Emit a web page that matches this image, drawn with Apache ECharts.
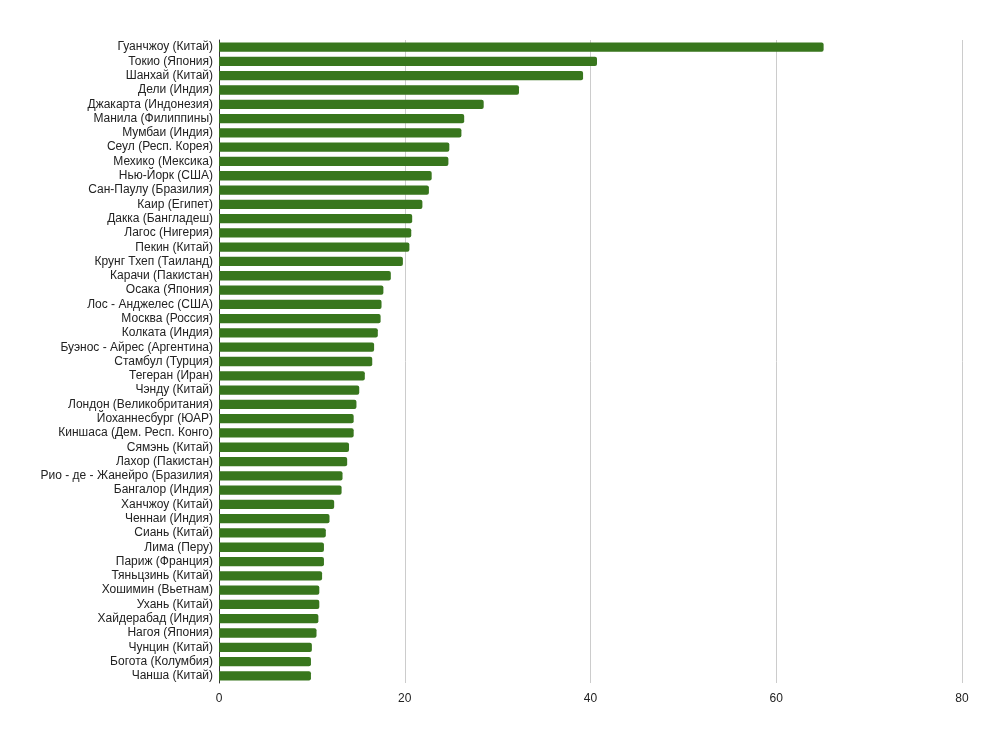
<!DOCTYPE html>
<html>
<head>
<meta charset="utf-8">
<script src="https://cdn.jsdelivr.net/npm/echarts@6/dist/echarts.min.js"></script>
<style>html,body{margin:0;padding:0;background:#fff}#c{width:1000px;height:743px}</style>
</head>
<body>
<div id="c"></div>
<script>
const cities = [
"Гуанчжоу (Китай)","Токио (Япония)","Шанхай (Китай)","Дели (Индия)","Джакарта (Индонезия)",
"Манила (Филиппины)","Мумбаи (Индия)","Сеул (Респ. Корея)","Мехико (Мексика)","Нью-Йорк (США)",
"Сан-Паулу (Бразилия)","Каир (Египет)","Дакка (Бангладеш)","Лагос (Нигерия)","Пекин (Китай)",
"Крунг Тхеп (Таиланд)","Карачи (Пакистан)","Осака (Япония)","Лос - Анджелес (США)","Москва (Россия)",
"Колката (Индия)","Буэнос - Айрес (Аргентина)","Стамбул (Турция)","Тегеран (Иран)","Чэнду (Китай)",
"Лондон (Великобритания)","Йоханнесбург (ЮАР)","Киншаса (Дем. Респ. Конго)","Сямэнь (Китай)","Лахор (Пакистан)",
"Рио - де - Жанейро (Бразилия)","Бангалор (Индия)","Ханчжоу (Китай)","Ченнаи (Индия)","Сиань (Китай)",
"Лима (Перу)","Париж (Франция)","Тяньцзинь (Китай)","Хошимин (Вьетнам)","Ухань (Китай)",
"Хайдерабад (Индия)","Нагоя (Япония)","Чунцин (Китай)","Богота (Колумбия)","Чанша (Китай)"
];
const population = [
65.1,40.7,39.2,32.3,28.5,
26.4,26.1,24.8,24.7,22.9,
22.6,21.9,20.8,20.7,20.5,
19.8,18.5,17.7,17.5,17.4,
17.1,16.7,16.5,15.7,15.1,
14.8,14.5,14.5,14.0,13.8,
13.3,13.2,12.4,11.9,11.5,
11.3,11.3,11.1,10.8,10.8,
10.7,10.5,10.0,9.9,9.9
];
const xTicks = {min:0, max:80, interval:20};

const chart = echarts.init(document.getElementById('c'), null, {renderer:'canvas'});
chart.setOption({
  animation:false,
  backgroundColor:'#fff',
  textStyle:{fontFamily:'Liberation Sans, Arial, sans-serif'},
  grid:{left:219, right:38, top:40, bottom:60, containLabel:false},
  xAxis:{
    type:'value', min:xTicks.min, max:xTicks.max, interval:xTicks.interval,
    axisLine:{show:false}, axisTick:{show:false},
    splitLine:{show:true, lineStyle:{color:'#cccccc', width:1}},
    axisLabel:{color:'#222', fontSize:12, margin:10}
  },
  yAxis:{
    type:'category', data:cities, inverse:true,
    axisLine:{show:true, lineStyle:{color:'#333', width:1}},
    axisTick:{show:false},
    splitLine:{show:false},
    axisLabel:{color:'#222', fontSize:12, margin:6, interval:0}
  },
  series:[{
    type:'bar', data:population, barCategoryGap:'35%',
    itemStyle:{color:'#38761d', borderRadius:[0,2,2,0]}
  }]
});
</script>
</body>
</html>
